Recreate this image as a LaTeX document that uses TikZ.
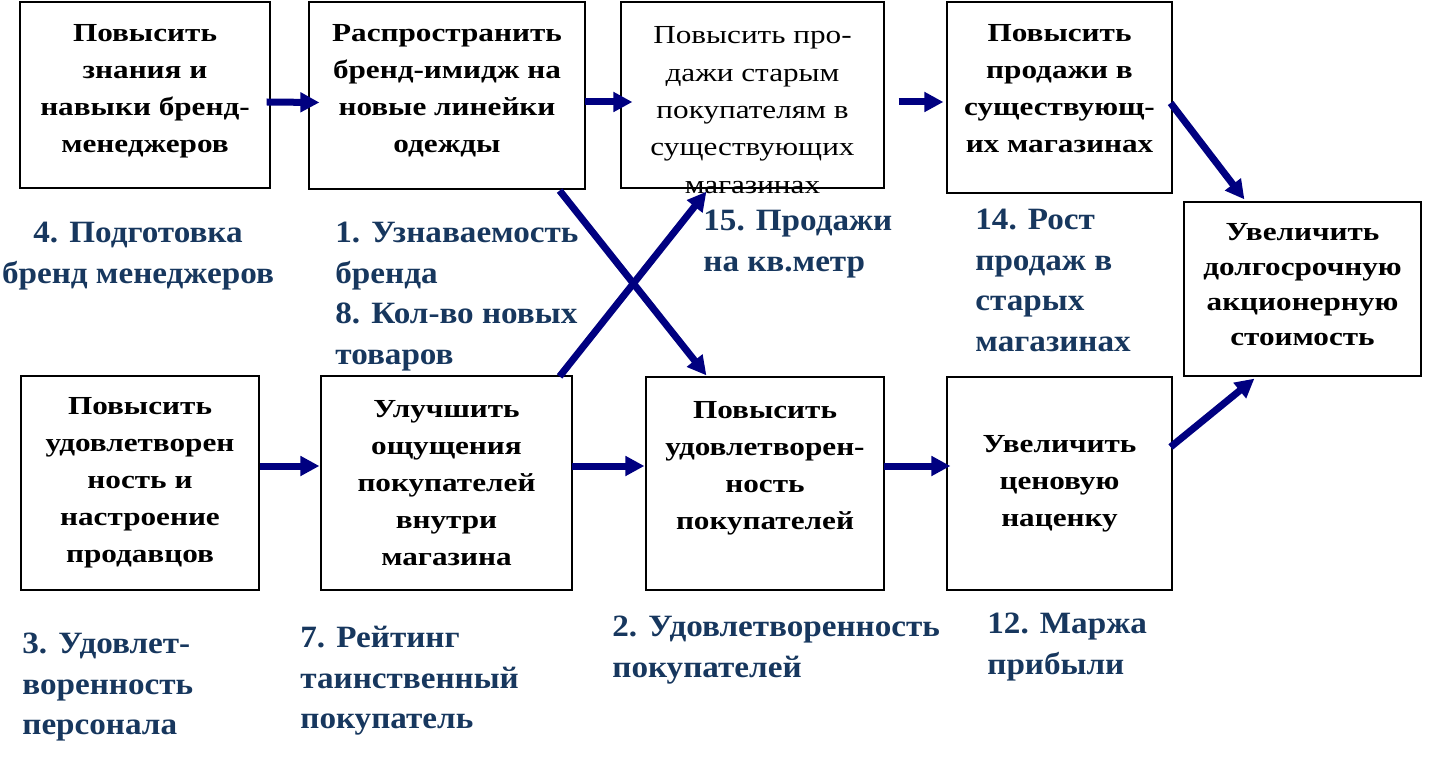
\documentclass[tikz,border=0pt]{standalone}
\usepackage{fontspec}
\setmainfont{Liberation Serif}
\newfontfamily\boxfont[FakeStretch=1.2]{Liberation Serif}
\newfontfamily\lblfont[FakeStretch=1.07]{Liberation Serif}
\usepackage{tikz}
\usetikzlibrary{arrows.meta,calc}
\definecolor{lblblue}{RGB}{23,55,94}
\definecolor{arrnavy}{RGB}{0,0,128}
% extra depth under the last line, lifts centred text a little
\newcommand{\lowpad}[1]{\rule[-#1]{0pt}{#1}}

\begin{document}
\begin{tikzpicture}[x=0.5pt,y=0.5pt,yscale=-1,
  box/.style={draw,line width=0.6pt,align=center,inner sep=0pt,font=\boxfont\fontsize{13}{18.5}\selectfont\bfseries},
  lbl/.style={text=lblblue,inner sep=0pt,align=left,anchor=north west,font=\lblfont\fontsize{15.5}{20.2}\selectfont\bfseries},
  arr/.style={draw=arrnavy,line width=3.5pt,-{Triangle[length=9.5pt,width=9.5pt]}}]
\useasboundingbox (0,0) rectangle (1434,764);

%Top row
\node[box,minimum width=125pt,minimum height=93pt] (b1) at (145,95) {Повысить\\знания и\\навыки бренд-\\менеджеров\lowpad{7pt}};
\node[box,minimum width=138pt,minimum height=93.5pt] (b2) at (447,95.5) {Распространить\\бренд-имидж на\\новые линейки\\одежды\lowpad{7pt}};
\node[box,minimum width=131.5pt,minimum height=93pt] (b3) at (752.5,95) {};
\node[box,draw=none,anchor=north,font=\boxfont\fontsize{13}{18.7}\selectfont] (b3txt) at (752.5,26) {Повысить про-\\дажи старым\\покупателям в\\существующих\\магазинах};
\node[box,minimum width=112.5pt,minimum height=95.5pt] (b4) at (1059.5,97.5) {Повысить\\продажи в\\существующ-\\их магазинах\lowpad{9pt}};
\node[box,minimum width=118.5pt,minimum height=87pt,font=\boxfont\fontsize{13}{17.5}\selectfont\bfseries] (b5) at (1302.5,289) {Увеличить\\долгосрочную\\акционерную\\стоимость\lowpad{4.5pt}};

%Bottom row
\node[box,minimum width=119pt,minimum height=107pt] (b6) at (140,483) {Повысить\\удовлетворен\\ность и\\настроение\\продавцов};
\node[box,minimum width=125.5pt,minimum height=107pt] (b7) at (446.5,483) {Улучшить\\ощущения\\покупателей\\внутри\\магазина};
\node[box,minimum width=119pt,minimum height=106.5pt] (b8) at (765,483.5) {Повысить\\удовлетворен-\\ность\\покупателей\\\mbox{}};
\node[box,minimum width=112.5pt,minimum height=106.5pt] (b9) at (1059.5,483.5) {Увеличить\\ценовую\\наценку};

%Measures
\node[lbl,anchor=north,align=center] (m4) at (138,222) {4. Подготовка\\бренд менеджеров};
\node[lbl] (m1) at (335,222) {1. Узнаваемость\\бренда\\8. Кол-во новых\\товаров};
\node[lbl] (m15) at (703,210) {15. Продажи\\на кв.метр};
\node[lbl] (m14) at (975,209) {14. Рост\\продаж в\\старых\\магазинах};
\node[lbl] (m3) at (22,633) {3. Удовлет-\\воренность\\персонала};
\node[lbl] (m7) at (300,626) {7. Рейтинг\\таинственный\\покупатель};
\node[lbl] (m2) at (612,616) {2. Удовлетворенность\\покупателей};
\node[lbl] (m12) at (987,613) {12. Маржа\\прибыли};

%Arrows
\draw[arr] ($(b1.east)+(-4,7)$) -- ($(b2.west)+(11,7)$);
\draw[arr] ($(b2.east)+(-1,6.5)$) -- ($(b3.west)+(12,7)$);
\draw[arr] ($(b3.east)+(14,7)$) -- ($(b4.west)+(-3,4.5)$);
\draw[arr] ($(b4.east)+(-2,5.5)$) -- ($(b5.north west)+(61,-2)$);
\draw[arr] ($(b2.south east)+(-26,1)$) -- ($(b8.north west)+(61,-1)$);
\draw[arr] ($(b7.north east)+(-13,1)$) -- ($(b3.south west)+(86,3)$);
\draw[arr] ($(b6.east)+(0,-17)$) -- ($(b7.west)+(-1,-17)$);
\draw[arr] ($(b7.east)+(-1,-17)$) -- ($(b8.west)+(-1,-17.5)$);
\draw[arr] ($(b8.east)+(-0.5,-17.5)$) -- ($(b9.west)+(4,-17.5)$);
\draw[arr] ($(b9.east)+(-2,-36.5)$) -- ($(b5.south west)+(71,2)$);

\end{tikzpicture}
\end{document}
